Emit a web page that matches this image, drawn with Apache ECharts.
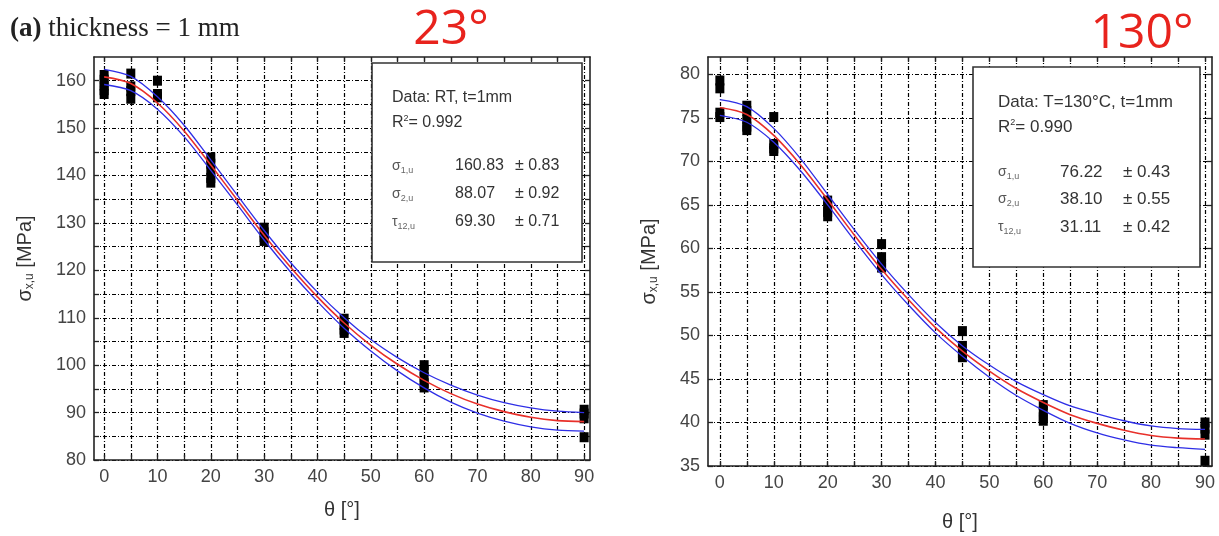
<!DOCTYPE html>
<html>
<head>
<meta charset="utf-8">
<script src="https://cdn.jsdelivr.net/npm/echarts@6/dist/echarts.min.js"></script>
<style>
html, body { margin: 0; padding: 0; background: #fff; }
#chart { width: 1219px; height: 536px; }
</style>
</head>
<body>
<div id="chart"></div>
<script>
const fitAngles = [0, 5, 10, 15, 20, 25, 30, 35, 40, 45, 50, 55, 60, 65, 70, 75, 80, 85, 90];

// room temperature, t = 1 mm
const rtFit   = [160.8, 159.4, 155.3, 149.4, 142.2, 134.8, 127.4, 120.6, 114.4, 108.9, 104.2, 100.2, 96.8, 94.0, 91.8, 90.2, 89.0, 88.3, 88.1];
const rtUpper = [162.4, 160.9, 156.6, 150.6, 143.3, 135.8, 128.4, 121.6, 115.4, 110.0, 105.4, 101.6, 98.4, 95.8, 93.7, 92.1, 91.0, 90.3, 90.0];
const rtLower = [159.2, 157.9, 154.0, 148.2, 141.1, 133.8, 126.4, 119.6, 113.4, 107.8, 103.0, 98.8, 95.2, 92.2, 89.9, 88.2, 87.0, 86.3, 86.1];
const rtPoints = [
  [0, 161.2], [0, 160.2], [0, 159.0], [0, 158.0], [0, 157.2],
  [5, 161.5], [5, 158.8], [5, 157.8], [5, 156.2],
  [10, 160.0], [10, 157.2], [10, 156.5],
  [20, 143.8], [20, 142.5], [20, 141.0], [20, 139.5], [20, 138.5],
  [30, 129.0], [30, 128.0], [30, 127.0], [30, 126.2],
  [45, 109.8], [45, 108.5], [45, 107.5], [45, 106.8],
  [60, 100.0], [60, 98.8], [60, 97.5], [60, 96.2], [60, 95.3],
  [90, 90.6], [90, 89.8], [90, 88.8], [90, 84.8]
];

// T = 130 °C, t = 1 mm
const htFit   = [76.2, 75.4, 73.0, 69.6, 65.6, 61.5, 57.6, 54.1, 50.9, 48.2, 45.9, 43.9, 42.3, 40.9, 39.9, 39.1, 38.5, 38.2, 38.1];
const htUpper = [77.1, 76.3, 73.8, 70.3, 66.2, 62.1, 58.2, 54.7, 51.5, 48.8, 46.6, 44.7, 43.2, 41.9, 41.0, 40.2, 39.6, 39.3, 39.2];
const htLower = [75.3, 74.5, 72.2, 68.9, 65.0, 60.9, 57.0, 53.5, 50.3, 47.6, 45.2, 43.1, 41.4, 39.9, 38.8, 38.0, 37.4, 37.1, 36.9];
const htPoints = [
  [0, 79.3], [0, 78.4], [0, 75.6], [0, 75.1],
  [5, 76.4], [5, 75.8], [5, 74.8], [5, 74.0], [5, 73.6],
  [10, 75.1], [10, 72.0], [10, 71.5], [10, 71.2],
  [20, 65.5], [20, 64.8], [20, 64.2], [20, 63.7],
  [30, 60.5], [30, 59.0], [30, 58.2], [30, 57.8],
  [45, 50.5], [45, 48.8], [45, 48.0], [45, 47.5],
  [60, 42.0], [60, 41.3], [60, 40.6], [60, 40.2],
  [90, 40.0], [90, 39.3], [90, 38.6], [90, 35.6]
];

// tick labels
const xLabelVals = [0, 10, 20, 30, 40, 50, 60, 70, 80, 90];
const xTickVals = [0, 5, 10, 15, 20, 25, 30, 35, 40, 45, 50, 55, 60, 65, 70, 75, 80, 85, 90];
const rtYLabelVals = [80, 90, 100, 110, 120, 130, 140, 150, 160];
const rtYTickVals = [80, 85, 90, 95, 100, 105, 110, 115, 120, 125, 130, 135, 140, 145, 150, 155, 160];
const htYVals = [35, 40, 45, 50, 55, 60, 65, 70, 75, 80];

const FONT = 'Liberation Sans';
const frame = { show: true, onZero: false, lineStyle: { color: '#222', width: 1.6 } };
const gridLine = { color: '#000', width: 1.2, type: [4, 2, 1, 2] };

const zip = (ys) => fitAngles.map((a, i) => [a, ys[i]]);

function xPair(gi, min, max, nameGap) {
  return [{
    gridIndex: gi, type: 'value', min, max, position: 'bottom',
    axisLine: frame,
    axisTick: { inside: true, length: 5, customValues: xTickVals, lineStyle: { color: '#222', width: 1.3 } },
    axisLabel: { customValues: xLabelVals, fontSize: 18, fontFamily: FONT, color: '#444', margin: 8 },
    splitLine: { show: true, lineStyle: gridLine },
    name: 'θ [°]', nameLocation: 'middle', nameGap,
    nameTextStyle: { fontSize: 20, fontFamily: FONT, color: '#333' }
  }, {
    gridIndex: gi, type: 'value', min, max, position: 'top',
    axisLine: frame,
    axisTick: { inside: true, length: 5, customValues: xTickVals, lineStyle: { color: '#222', width: 1.3 } },
    axisLabel: { show: false }, splitLine: { show: false }
  }];
}

function yPair(gi, min, max, labels, ticks, nameGap) {
  return [{
    gridIndex: gi, type: 'value', min, max, position: 'left',
    axisLine: frame,
    axisTick: { inside: true, length: 5, customValues: ticks, lineStyle: { color: '#222', width: 1.3 } },
    axisLabel: { customValues: labels, fontSize: 18, fontFamily: FONT, color: '#444', margin: 8 },
    splitLine: { show: true, lineStyle: gridLine },
    name: '{a|σ}{b|x,u}{a| [MPa]}', nameLocation: 'middle', nameRotate: 90, nameGap,
    nameTextStyle: {
      fontFamily: FONT, color: '#333',
      rich: {
        a: { fontSize: 20, fontFamily: FONT, color: '#333' },
        b: { fontSize: 12, fontFamily: FONT, color: '#333', padding: [10, 0, 0, 0] }
      }
    }
  }, {
    gridIndex: gi, type: 'value', min, max, position: 'right',
    axisLine: frame,
    axisTick: { inside: true, length: 5, customValues: ticks, lineStyle: { color: '#222', width: 1.3 } },
    axisLabel: { show: false }, splitLine: { show: false }
  }];
}

function seriesFor(gi, pts, fit, up, lo) {
  const ax = { xAxisIndex: gi * 2, yAxisIndex: gi * 2 };
  const line = (d, color, w) => Object.assign({
    type: 'line', data: zip(d), smooth: 0.3, showSymbol: false, silent: true,
    lineStyle: { color, width: w }, z: 3
  }, ax);
  return [
    Object.assign({ type: 'scatter', data: pts, symbol: 'rect', symbolSize: [9, 10],
      itemStyle: { color: '#000', opacity: 1 }, z: 2 }, ax),
    line(up, '#2e2ee6', 1.3),
    line(lo, '#2e2ee6', 1.3),
    line(fit, '#e8302a', 1.6)
  ];
}

function infoBox(x, y, w, h, tx, vx, pmx, lines, rows, fs) {
  const els = [{
    type: 'rect', shape: { x, y, width: w, height: h }, z: 50,
    style: { fill: '#fff', stroke: '#333', lineWidth: 1.6 }
  }];
  const base = { fontFamily: FONT, fontSize: fs, fill: '#333', verticalAlign: 'middle' };
  els.push({ type: 'text', x: tx, y: lines[0].y, z: 51, style: Object.assign({ text: lines[0].t }, base) });
  els.push({ type: 'text', x: tx, y: lines[1].y, z: 51, style: Object.assign({
    text: '{r|R}{s|2}{r|= ' + lines[1].t + '}',
    rich: {
      r: { fontFamily: FONT, fontSize: fs, fill: '#333' },
      s: { fontFamily: FONT, fontSize: 9, fill: '#333', padding: [0, 0, 9, 0] }
    }
  }, base) });
  rows.forEach(r => {
    els.push({ type: 'text', x: tx, y: r.y, z: 51, style: Object.assign({
      text: '{g|' + r.g + '}{b|' + r.sub + '}',
      rich: {
        g: { fontFamily: FONT, fontSize: 14, fill: '#555' },
        b: { fontFamily: FONT, fontSize: 9, fill: '#666', padding: [10, 0, 0, 0] }
      }
    }, base) });
    els.push({ type: 'text', x: vx, y: r.y, z: 51, style: Object.assign({ text: r.v }, base) });
    els.push({ type: 'text', x: pmx, y: r.y, z: 51, style: Object.assign({ text: '± ' + r.e }, base) });
  });
  return els;
}

const chart = echarts.init(document.getElementById('chart'), null, { renderer: 'canvas' });
chart.setOption({
  animation: false,
  backgroundColor: '#fff',
  grid: [
    { left: 94, top: 57, width: 496, height: 403, containLabel: false, outerBoundsMode: 'none' },
    { left: 708, top: 57, width: 504, height: 409, containLabel: false, outerBoundsMode: 'none' }
  ],
  xAxis: [].concat(xPair(0, -1.9, 91.1, 40), xPair(1, -2.2, 91.3, 46)),
  yAxis: [].concat(yPair(0, 80, 165, rtYLabelVals, rtYTickVals, 58), yPair(1, 35, 82, htYVals, htYVals, 48)),
  series: [].concat(
    seriesFor(0, rtPoints, rtFit, rtUpper, rtLower),
    seriesFor(1, htPoints, htFit, htUpper, htLower)
  ),
  graphic: [].concat(
    [{
      type: 'text', x: 10, y: 29,
      style: {
        text: '{b|(a)}{n| thickness = 1 mm}', verticalAlign: 'middle',
        rich: {
          b: { fontFamily: 'Liberation Serif', fontSize: 27, fontWeight: 'bold', fill: '#222' },
          n: { fontFamily: 'Liberation Serif', fontSize: 27, fill: '#222' }
        }
      }
    }, {
      type: 'text', x: 451, y: 30,
      style: { text: '23°', fontFamily: 'Open Sans', fontSize: 48, fill: '#e8231d', align: 'center', verticalAlign: 'middle' }
    }, {
      type: 'text', x: 1142, y: 34,
      style: { text: '130°', fontFamily: 'Open Sans', fontSize: 48, fill: '#e8231d', align: 'center', verticalAlign: 'middle' }
    }],
    infoBox(372, 63, 210, 199, 392, 455, 515,
      [{ y: 98, t: 'Data: RT, t=1mm' }, { y: 123, t: '0.992' }],
      [{ y: 166, g: 'σ', sub: '1,u', v: '160.83', e: '0.83' },
       { y: 194, g: 'σ', sub: '2,u', v: '88.07', e: '0.92' },
       { y: 222, g: 'τ', sub: '12,u', v: '69.30', e: '0.71' }], 16),
    infoBox(973, 67, 227, 200, 998, 1060, 1123,
      [{ y: 102, t: 'Data: T=130°C, t=1mm' }, { y: 127, t: '0.990' }],
      [{ y: 172, g: 'σ', sub: '1,u', v: '76.22', e: '0.43' },
       { y: 199, g: 'σ', sub: '2,u', v: '38.10', e: '0.55' },
       { y: 227, g: 'τ', sub: '12,u', v: '31.11', e: '0.42' }], 17)
  )
});
</script>
</body>
</html>
